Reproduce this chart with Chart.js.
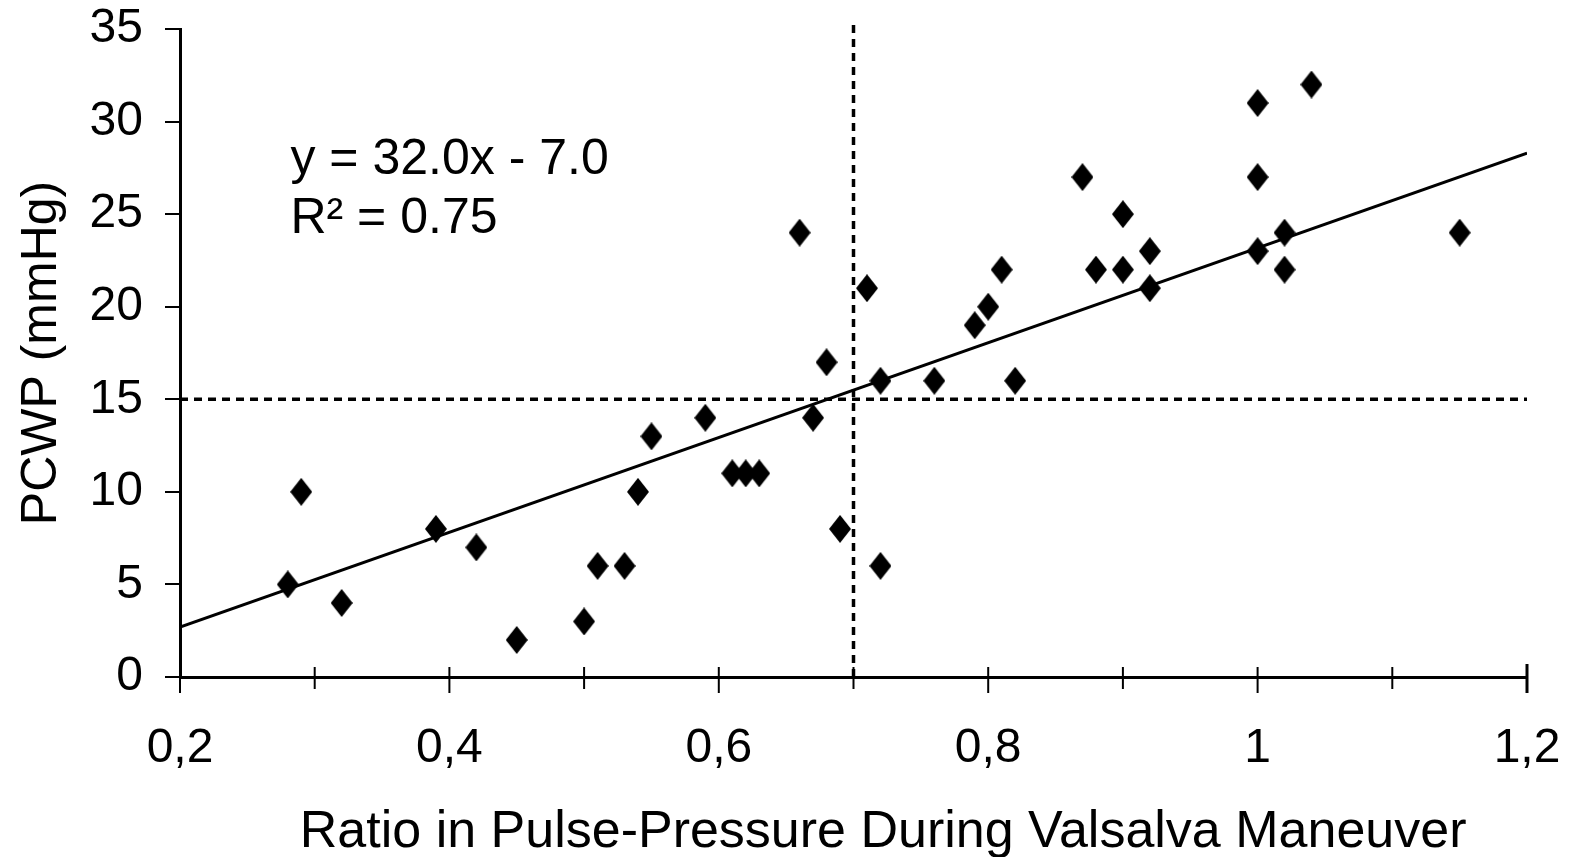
<!DOCTYPE html>
<html>
<head>
<meta charset="utf-8">
<script src="https://cdn.jsdelivr.net/npm/chart.js@4.4.1/dist/chart.umd.min.js"></script>
<style>
  html, body { margin: 0; padding: 0; background: #fff; }
  #wrap { width: 1569px; height: 857px; }
</style>
</head>
<body>
<div id="wrap"><canvas id="scatterplot"></canvas></div>
<script>
// values
const ratioValues = [0.28, 0.29, 0.32, 0.39, 0.42, 0.45, 0.50, 0.51, 0.53, 0.54,
                     0.55, 0.59, 0.61, 0.62, 0.63, 0.66, 0.67, 0.68, 0.69, 0.71,
                     0.72, 0.72, 0.76, 0.79, 0.80, 0.81, 0.82, 0.87, 0.88, 0.90,
                     0.90, 0.92, 0.92, 1.00, 1.00, 1.00, 1.02, 1.02, 1.04, 1.15]
const pcwpValues  = [5, 10, 4, 8, 7, 2, 3, 6, 6, 10,
                     13, 14, 11, 11, 11, 24, 14, 17, 8, 21,
                     16, 6, 16, 19, 20, 22, 16, 27, 22, 25,
                     22, 23, 21, 27, 31, 23, 24, 22, 32, 24]

// trend line as drawn (end points)
const trendX = [0.2, 1.2]
const trendY = [2.7, 28.3]

// cut-off lines
const cutRatio = 0.7
const cutPcwp = 15

const equationLines = ['y = 32.0x - 7.0', 'R\u00B2 = 0.75']
const xTitle = 'Ratio in Pulse-Pressure During Valsalva Maneuver'
const yTitle = 'PCWP (mmHg)'

const FONT = "'Liberation Sans', Arial, sans-serif"

// diamond marker, a bit taller than wide
const diamond = document.createElement('canvas')
diamond.width = 22
diamond.height = 28
var dctx = diamond.getContext('2d')
dctx.fillStyle = '#000'
dctx.beginPath()
dctx.moveTo(11, 0)
dctx.lineTo(22, 14)
dctx.lineTo(11, 28)
dctx.lineTo(0, 14)
dctx.closePath()
dctx.fill()

var points = ratioValues.map((x, i) => ({ x: x, y: pcwpValues[i] }))

// crossing tick marks on the x axis, equation text and x title
const extras = {
  id: 'extras',
  afterDraw(chart) {
    const ctx = chart.ctx
    const xs = chart.scales.x
    const ys = chart.scales.y
    const y0 = ys.getPixelForValue(0)
    ctx.save()
    ctx.strokeStyle = '#000'
    xs.ticks.forEach((t) => {
      const px = xs.getPixelForValue(t.value)
      const major = Math.round(t.value * 10) % 2 === 0
      const last = Math.abs(t.value - 1.2) < 1e-6
      ctx.lineWidth = last ? 3 : 2
      ctx.beginPath()
      ctx.moveTo(px, y0 - (last ? 13 : 10))
      ctx.lineTo(px, y0 + (major ? 16 : 12))
      ctx.stroke()
    })
    ctx.fillStyle = '#000'
    ctx.font = '50px ' + FONT
    ctx.textBaseline = 'middle'
    ctx.fillText(equationLines[0], xs.getPixelForValue(0.282), ys.getPixelForValue(27.9))
    ctx.fillText(equationLines[1], xs.getPixelForValue(0.282), ys.getPixelForValue(24.7))

    ctx.font = '52px ' + FONT
    ctx.textAlign = 'center'
    ctx.fillText(xTitle, xs.getPixelForValue(0.722), y0 + 156)
    ctx.restore()
  }
}

var ctx = document.getElementById('scatterplot')
var scatterplot = new Chart(ctx, {
  type: 'scatter',
  data: {
    datasets: [
      {
        label: 'patients',
        data: points,
        pointStyle: diamond,
        order: 0,
      },
      {
        type: 'line',
        label: 'trend',
        data: trendX.map((x, i) => ({ x: x, y: trendY[i] })),
        borderColor: '#000',
        borderWidth: 3,
        pointRadius: 0,
        order: 1,
      },
      {
        type: 'line',
        label: 'cut ratio',
        data: [{ x: cutRatio, y: 0 }, { x: cutRatio, y: 35.4 }],
        borderColor: '#000',
        borderWidth: 3.5,
        borderDash: [8, 6],
        pointRadius: 0,
        clip: 12,
        order: 2,
      },
      {
        type: 'line',
        label: 'cut pcwp',
        data: [{ x: 0.2, y: cutPcwp }, { x: 1.2, y: cutPcwp }],
        borderColor: '#000',
        borderWidth: 3.5,
        borderDash: [8, 6],
        pointRadius: 0,
        order: 3,
      },
    ]
  },
  options: {
    responsive: true,
    maintainAspectRatio: false,
    animation: false,
    layout: { padding: { top: 29, right: 42, left: 0, bottom: 0 } },
    plugins: {
      legend: { display: false },
      tooltip: { enabled: false },
    },
    scales: {
      x: {
        type: 'linear',
        min: 0.2,
        max: 1.2,
        afterFit: (s) => {
          s.height = 180
          s.paddingLeft = 0
          s.paddingRight = 0
        },
        border: { color: '#000', width: 3 },
        grid: { display: false },
        ticks: {
          stepSize: 0.1,
          color: '#000',
          font: { family: FONT, size: 48 },
          padding: 35,
          maxRotation: 0,
          autoSkip: false,
          callback: (v) => {
            var n = Math.round(v * 10)
            if (n % 2 !== 0) return ''
            return String(n / 10).replace('.', ',')
          }
        },
      },
      y: {
        min: 0,
        max: 35,
        afterFit: (s) => {
          s.width = 180
          s.paddingTop = 0
          s.paddingBottom = 0
        },
        border: { color: '#000', width: 3 },
        grid: { drawOnChartArea: false, drawTicks: true, tickLength: 15, color: '#000', lineWidth: 2 },
        ticks: {
          stepSize: 5,
          color: '#000',
          font: { family: FONT, size: 48 },
          padding: 22,
        },
        title: {
          display: true,
          text: yTitle,
          color: '#000',
          font: { family: FONT, size: 50 },
          padding: { top: 12, bottom: 0 },
        }
      }
    }
  },
  plugins: [extras]
})
</script>
</body>
</html>
